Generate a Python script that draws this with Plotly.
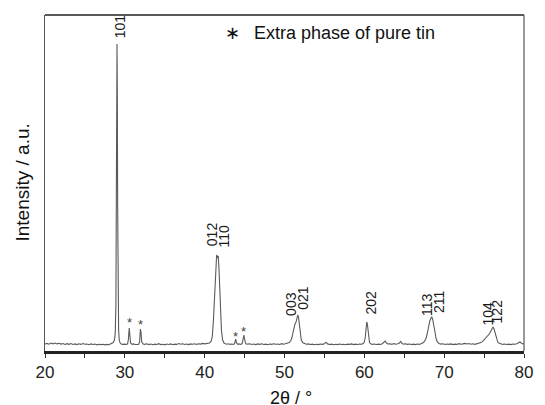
import plotly.graph_objects as go

# XRD pattern (intensity in arbitrary units)
two_theta = [
    20.0, 20.25, 20.5, 20.75, 21.0, 21.25, 21.5, 21.75, 22.0, 22.25, 22.5, 22.75,
    23.0, 23.25, 23.5, 23.75, 24.0, 24.25, 24.5, 24.75, 25.0, 25.25, 25.5, 25.75,
    26.0, 26.25, 26.5, 26.75, 27.0, 27.25, 27.5, 27.75, 28.0, 28.2, 28.4, 28.55,
    28.7, 28.8, 28.88, 28.94, 28.98, 29.02, 29.06, 29.1, 29.15, 29.22, 29.3, 29.4,
    29.55, 29.75, 30.0, 30.2, 30.35, 30.45, 30.55, 30.62, 30.72, 30.9, 31.1, 31.3,
    31.5, 31.7, 31.85, 31.95, 32.02, 32.12, 32.3, 32.5, 32.75, 33.0, 33.25, 33.5,
    33.75, 34.0, 34.25, 34.5, 34.75, 35.0, 35.25, 35.5, 35.75, 36.0, 36.25, 36.5,
    36.75, 37.0, 37.25, 37.5, 37.75, 38.0, 38.25, 38.5, 38.75, 39.0, 39.25, 39.5,
    39.75, 40.0, 40.2, 40.4, 40.6, 40.8, 40.95, 41.1, 41.25, 41.4, 41.5, 41.6,
    41.7, 41.8, 41.95, 42.1, 42.25, 42.4, 42.6, 42.8, 43.0, 43.2, 43.4, 43.6,
    43.75, 43.88, 43.98, 44.1, 44.3, 44.5, 44.7, 44.82, 44.92, 45.02, 45.15, 45.4,
    45.65, 45.9, 46.15, 46.4, 46.65, 46.9, 47.15, 47.4, 47.65, 47.9, 48.15, 48.4,
    48.65, 48.9, 49.15, 49.4, 49.65, 49.9, 50.15, 50.4, 50.6, 50.8, 50.95, 51.1,
    51.25, 51.35, 51.45, 51.55, 51.65, 51.75, 51.85, 51.95, 52.1, 52.3, 52.5, 52.75,
    53.0, 53.25, 53.5, 53.75, 54.0, 54.25, 54.5, 54.75, 55.0, 55.2, 55.4, 55.65,
    55.9, 56.15, 56.4, 56.65, 56.9, 57.15, 57.4, 57.65, 57.9, 58.15, 58.4, 58.65,
    58.9, 59.15, 59.4, 59.65, 59.85, 60.0, 60.12, 60.22, 60.3, 60.38, 60.46, 60.55,
    60.65, 60.8, 61.0, 61.25, 61.5, 61.75, 62.0, 62.25, 62.45, 62.6, 62.75, 62.95,
    63.2, 63.45, 63.7, 63.95, 64.2, 64.4, 64.55, 64.7, 64.9, 65.15, 65.4, 65.65,
    65.9, 66.15, 66.4, 66.65, 66.9, 67.15, 67.35, 67.55, 67.75, 67.9, 68.05, 68.2,
    68.35, 68.45, 68.55, 68.7, 68.85, 69.0, 69.15, 69.35, 69.6, 69.85, 70.1, 70.35,
    70.6, 70.85, 71.1, 71.35, 71.6, 71.85, 72.1, 72.35, 72.6, 72.85, 73.1, 73.35,
    73.6, 73.85, 74.1, 74.35, 74.6, 74.85, 75.05, 75.25, 75.45, 75.65, 75.85, 76.0,
    76.12, 76.25, 76.4, 76.55, 76.7, 76.9, 77.1, 77.35, 77.6, 77.85, 78.1, 78.35,
    78.6, 78.85, 79.1, 79.3, 79.5, 79.7, 79.85, 80.0,
]
intensity = [
    1.0, 1.6, 0.8, 1.9, 1.2, 2.0, 1.1, 1.7, 0.9, 1.5, 0.6, 1.3,
    0.7, 1.4, 0.5, 1.1, 0.4, 1.2, 0.6, 1.5, 0.8, 1.0, 0.3, 1.1,
    0.5, 0.9, 0.2, 0.8, 0.4, 0.7, 0.1, 0.6, 0.3, 0.9, 1.5, 2.5,
    5.0, 12.0, 40.0, 120.0, 240.0, 301.0, 250.0, 140.0, 50.0, 15.0, 5.0, 2.2,
    1.0, 0.6, 0.9, 0.5, 1.2, 6.0, 17.0, 9.0, 2.0, 0.7, 1.1, 0.5,
    0.9, 0.6, 3.0, 16.0, 13.0, 3.0, 1.0, 0.6, 1.2, 0.4, 1.0, 0.3,
    0.9, 0.5, 1.3, 0.4, 0.8, 0.2, 1.0, 0.5, 1.1, 0.3, 0.9, 0.6,
    1.4, 0.7, 1.2, 0.5, 1.0, 0.4, 1.1, 0.8, 1.3, 0.6, 1.2, 0.9,
    1.6, 1.1, 1.5, 1.3, 2.0, 3.5, 8.0, 25.0, 55.0, 84.0, 90.0, 88.0,
    89.0, 75.0, 42.0, 15.0, 5.0, 2.2, 1.3, 0.8, 1.2, 0.6, 1.0, 0.5,
    1.3, 6.0, 2.5, 0.8, 1.1, 0.6, 1.4, 5.0, 10.0, 5.0, 1.2, 0.9,
    1.3, 0.5, 1.0, 0.4, 1.1, 0.6, 1.2, 0.5, 0.9, 0.3, 1.0, 0.6,
    1.2, 0.7, 1.0, 0.5, 1.3, 0.8, 1.2, 1.6, 2.5, 4.5, 8.0, 14.0,
    20.0, 22.0, 23.0, 28.0, 30.0, 28.0, 20.0, 11.0, 5.0, 2.2, 1.2, 0.7,
    1.1, 0.5, 0.9, 0.3, 0.8, 0.4, 1.0, 0.6, 1.2, 2.8, 1.1, 0.5,
    0.9, 0.3, 0.8, 0.4, 1.0, 0.5, 0.8, 0.3, 0.9, 0.6, 1.1, 0.4,
    0.9, 0.5, 1.0, 0.7, 1.5, 3.0, 8.0, 17.0, 23.0, 21.0, 13.0, 6.0,
    2.5, 1.2, 0.6, 1.0, 0.5, 0.9, 0.6, 1.3, 2.5, 4.0, 2.2, 1.0,
    1.3, 0.7, 1.4, 0.8, 1.2, 2.0, 3.5, 1.6, 0.9, 1.2, 0.6, 1.0,
    0.5, 0.9, 0.4, 1.0, 0.6, 1.3, 2.2, 3.8, 7.0, 12.0, 19.0, 24.0,
    27.0, 28.0, 26.0, 21.0, 13.0, 6.0, 3.0, 1.6, 0.9, 1.2, 0.5, 1.0,
    0.6, 1.1, 0.4, 0.9, 0.6, 1.3, 0.7, 1.1, 1.6, 1.0, 1.5, 0.8,
    1.2, 0.6, 1.1, 1.5, 2.4, 3.8, 5.5, 7.5, 9.5, 11.0, 14.0, 17.0,
    18.0, 16.0, 11.0, 6.0, 3.2, 1.8, 1.1, 0.6, 1.0, 0.5, 0.9, 0.4,
    1.0, 0.7, 1.2, 2.0, 3.0, 1.8, 1.0, 1.3,
]

# Miller-index labels: text, 2theta of label centre, intensity at label bottom
hkl_text = ["101", "012", "110", "003", "021", "202", "113", "211", "104", "122"]
hkl_x = [29.42, 40.94, 42.42, 50.80, 52.28, 60.78, 67.80, 69.28, 75.44, 76.67]
hkl_y = [305, 97, 96, 27, 33, 28, 27, 30, 17, 20]

# pure-tin reflections marked with *
tin_x = [30.55, 32.0, 43.9, 44.92]
tin_y = [23, 21, 9, 14]

legend_text = "Extra phase of pure tin"

FONT = "Arial, Liberation Sans, Helvetica, sans-serif"

fig = go.Figure()
fig.add_trace(go.Scatter(
    x=two_theta, y=intensity, mode="lines",
    line=dict(color="#5a5a5a", width=1.1),
    showlegend=False, hoverinfo="skip",
))

ann = []
for t, x, y in zip(hkl_text, hkl_x, hkl_y):
    ann.append(dict(x=x, y=y, xref="x", yref="y", text=t, showarrow=False,
                    textangle=-90, xanchor="center", yanchor="bottom",
                    font=dict(family=FONT, size=14, color="#1a1a1a")))
for x, y in zip(tin_x, tin_y):
    ann.append(dict(x=x, y=y, xref="x", yref="y", text="*", showarrow=False,
                    xanchor="center", yanchor="middle",
                    font=dict(family=FONT, size=13, color="#444")))
ann.append(dict(x=43.53, y=312, xref="x", yref="y", text="∗", showarrow=False,
                xanchor="center", yanchor="middle",
                font=dict(family=FONT, size=18, color="#111")))
ann.append(dict(x=45.87, y=312, xref="x", yref="y", text=legend_text, showarrow=False,
                xanchor="left", yanchor="middle",
                font=dict(family=FONT, size=18, color="#111")))
ann.append(dict(x=0.513, y=-0.14, xref="paper", yref="paper", text="2θ / °",
                showarrow=False, xanchor="center", yanchor="middle",
                font=dict(family=FONT, size=18, color="#111")))
ann.append(dict(x=-0.049, y=0.5, xref="paper", yref="paper", text="Intensity / a.u.",
                showarrow=False, textangle=-90, xanchor="center", yanchor="middle",
                font=dict(family=FONT, size=19, color="#111")))

fig.update_layout(
    width=545, height=405,
    margin=dict(l=45, r=13, t=15, b=54),
    paper_bgcolor="white", plot_bgcolor="white",
    annotations=ann,
    shapes=[
        dict(type="line", xref="paper", yref="paper", x0=0, x1=1, y0=1, y1=1,
             line=dict(color="#222", width=1.5)),
        dict(type="line", xref="paper", yref="paper", x0=1, x1=1, y0=0, y1=1,
             line=dict(color="#555", width=1.2)),
    ],
    xaxis=dict(
        range=[20, 80], dtick=10, tick0=20,
        ticks="outside", ticklen=4, tickwidth=1, tickcolor="#333",
        minor=dict(dtick=5, ticks="outside", ticklen=4, tickwidth=1, tickcolor="#333"),
        showline=True, linewidth=2.5, linecolor="#222", mirror=False,
        showgrid=False, zeroline=False,
        tickfont=dict(family=FONT, size=17, color="#222"),
    ),
    yaxis=dict(
        range=[-6, 330], showticklabels=False, ticks="",
        showline=True, linewidth=1.2, linecolor="#555",
        showgrid=False, zeroline=False,
    ),
)

fig.write_html("out.html")
